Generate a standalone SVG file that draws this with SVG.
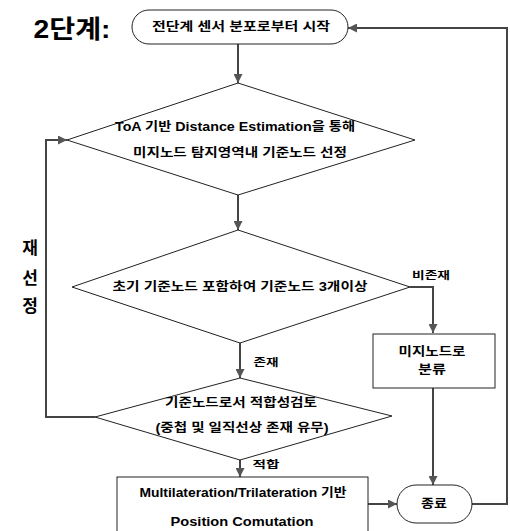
<svg xmlns="http://www.w3.org/2000/svg" width="510" height="531" viewBox="0 0 510 531">
<style>
.t{font-family:"Liberation Sans","Noto Sans CJK KR",sans-serif;font-weight:bold;fill:#000;text-anchor:middle;dominant-baseline:central}
.s{fill:#fff;stroke:#222;stroke-width:1}
.c{fill:none;stroke:#444;stroke-width:2}
</style>
<defs>
<marker id="ah" viewBox="0 0 10 10" refX="10" refY="5" markerWidth="10" markerHeight="9" markerUnits="userSpaceOnUse" orient="auto">
<path d="M0,0 L10,5 L0,10 z" fill="#555"/>
</marker>
</defs>
<rect width="510" height="531" fill="#fff"/>
<text class="t" x="72" y="29" font-size="25" textLength="77" lengthAdjust="spacingAndGlyphs">2단계:</text>
<g id="connectors">
<path class="c" d="M238,43 V83" marker-end="url(#ah)"/>
<path class="c" d="M238,195 V230" marker-end="url(#ah)"/>
<path class="c" d="M240,343 V378" marker-end="url(#ah)"/>
<path class="c" d="M240,460 V477" marker-end="url(#ah)"/>
<path class="c" d="M410,287 H433 V333" marker-end="url(#ah)"/>
<path class="c" d="M433,388 V485" marker-end="url(#ah)"/>
<path class="c" d="M368,504 H397" marker-end="url(#ah)"/>
<path class="c" d="M472,504 H507 V28 H348" marker-end="url(#ah)"/>
<path class="c" d="M95,417 H46 V140 H67" marker-end="url(#ah)"/>
</g>
<g id="start">
<rect class="s" x="132" y="10" width="216" height="34" rx="17"/>
<text class="t" x="241" y="27" font-size="12" textLength="178" lengthAdjust="spacingAndGlyphs">전단계 센서 분포로부터 시작</text>
</g>
<g id="d1">
<polygon class="s" points="238,83 415,140 238,195 67,140"/>
<text class="t" x="235" y="127" font-size="12" textLength="240" lengthAdjust="spacingAndGlyphs">ToA 기반 Distance Estimation을 통해</text>
<text class="t" x="240" y="153" font-size="12" textLength="214" lengthAdjust="spacingAndGlyphs">미지노드 탐지영역내 기준노드 선정</text>
</g>
<g id="d2">
<polygon class="s" points="238,230 410,287 240,343 72,287"/>
<text class="t" x="240" y="287" font-size="12" textLength="255" lengthAdjust="spacingAndGlyphs">초기 기준노드 포함하여 기준노드 3개이상</text>
</g>
<g id="d3">
<polygon class="s" points="240,378 392,416 240,460 95,417"/>
<text class="t" x="241" y="403" font-size="12" textLength="152" lengthAdjust="spacingAndGlyphs">기준노드로서 적합성검토</text>
<text class="t" x="242" y="428" font-size="12" textLength="173" lengthAdjust="spacingAndGlyphs">(중첩 및 일직선상 존재 유무)</text>
</g>
<g id="unknown">
<rect class="s" x="373" y="334" width="122" height="54"/>
<text class="t" x="432" y="352" font-size="12" textLength="67" lengthAdjust="spacingAndGlyphs">미지노드로</text>
<text class="t" x="432" y="370" font-size="12" textLength="28" lengthAdjust="spacingAndGlyphs">분류</text>
</g>
<g id="pos">
<rect class="s" x="117" y="477" width="251" height="60"/>
<text class="t" x="243" y="493" font-size="12" textLength="207" lengthAdjust="spacingAndGlyphs">Multilateration/Trilateration 기반</text>
<text class="t" x="242" y="522" font-size="12" textLength="143" lengthAdjust="spacingAndGlyphs">Position Comutation</text>
</g>
<g id="end">
<rect class="s" x="397" y="485" width="75" height="38" rx="19"/>
<text class="t" x="434" y="504" font-size="12" textLength="26" lengthAdjust="spacingAndGlyphs">종료</text>
</g>
<g id="labels">
<text class="t" x="431" y="275" font-size="10" textLength="38" lengthAdjust="spacingAndGlyphs">비존재</text>
<text class="t" x="266" y="362" font-size="10" textLength="25" lengthAdjust="spacingAndGlyphs">존재</text>
<text class="t" x="266" y="464" font-size="10" textLength="27" lengthAdjust="spacingAndGlyphs">적합</text>
<text class="t" x="30" y="248" font-size="17">재</text>
<text class="t" x="30" y="278" font-size="17">선</text>
<text class="t" x="30" y="306" font-size="17">정</text>
</g>
</svg>
